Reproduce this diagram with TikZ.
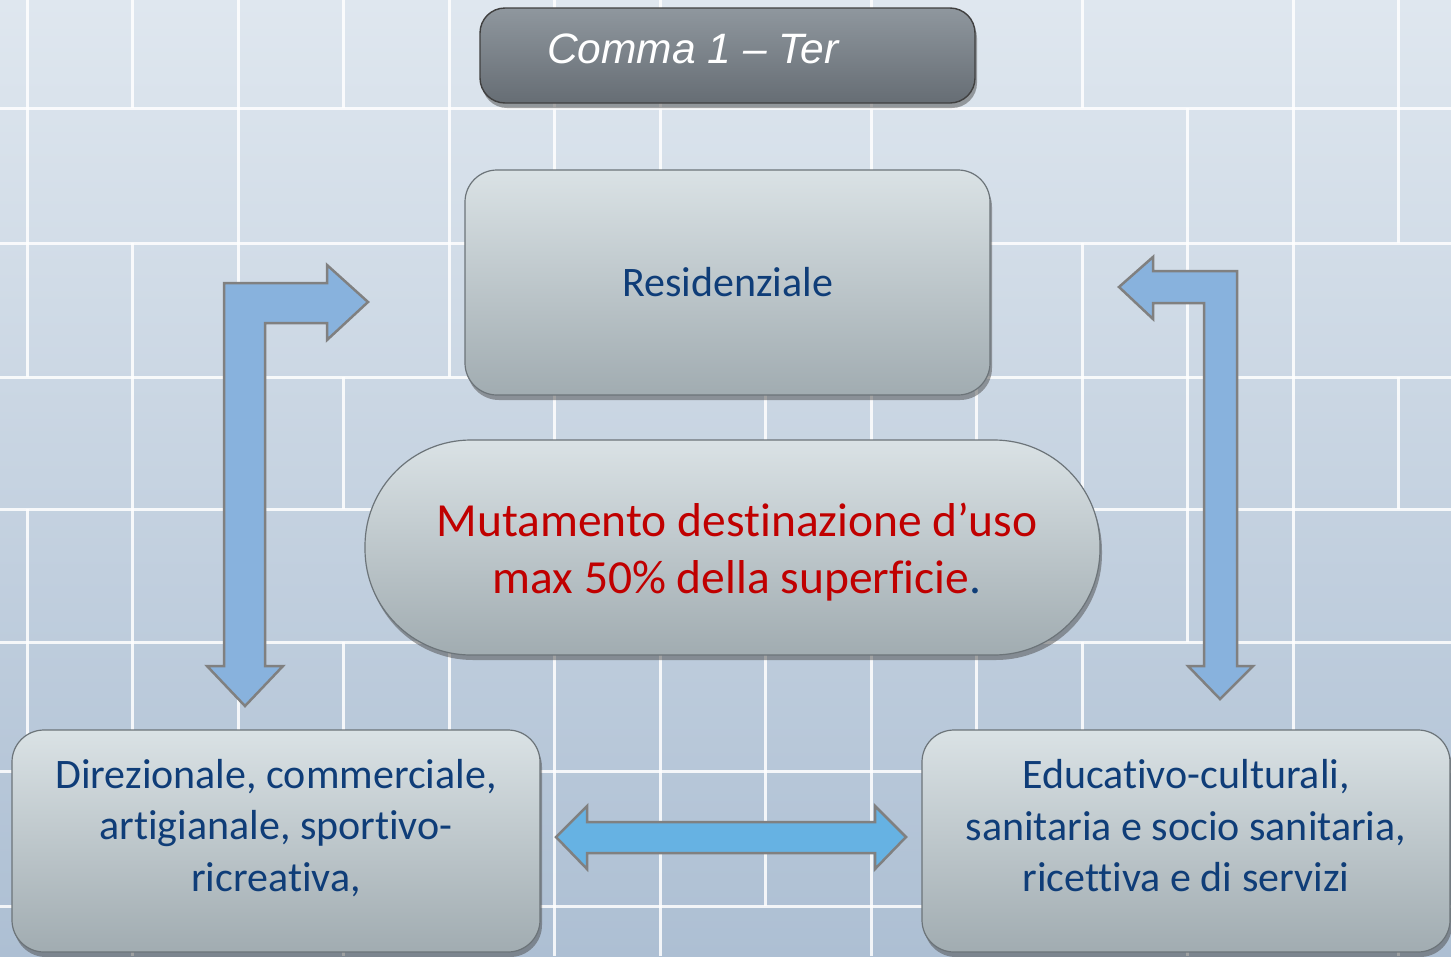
\documentclass[tikz,border=0pt]{standalone}
\usepackage{fontspec}
\setmainfont{Carlito}[Ligatures=CommonOff]
\newfontfamily\arialfont{Liberation Sans}
\usetikzlibrary{shadows}
\definecolor{bgtop}{HTML}{DFE7EF}
\definecolor{bgbot}{HTML}{ADBFD3}
\definecolor{boxtop}{HTML}{DAE2E5}
\definecolor{boxbot}{HTML}{A1ACB1}
\definecolor{boxline}{HTML}{6C7479}
\definecolor{txtblue}{HTML}{0F3D78}
\definecolor{txtred}{HTML}{C00000}
\definecolor{arrfill}{HTML}{88B2DD}
\definecolor{arrfilltwo}{HTML}{66B2E3}
\definecolor{arrline}{HTML}{808080}
\definecolor{commatop}{HTML}{8F979E}
\definecolor{commabot}{HTML}{666D74}
\begin{document}
\begin{tikzpicture}[x=1pt,y=-1pt,
  gridline/.style={white, line width=3pt, opacity=0.85},
  gbox/.style={draw=boxline, line width=1.2pt, top color=boxtop, bottom color=boxbot,
     drop shadow={shadow xshift=2pt, shadow yshift=-5pt, opacity=0.5, fill=black!70}},
  cbox/.style={draw=black!75, line width=1.4pt, top color=commatop, bottom color=commabot,
     drop shadow={shadow xshift=2pt, shadow yshift=-5pt, opacity=0.5, fill=black!70}},
  bluetext/.style={text=txtblue, font=\fontsize{42}{51.5}\selectfont, align=center, inner sep=0pt},
  blockarrow/.style={draw=arrline, line width=2.5pt},
]
\useasboundingbox (0,0) rectangle (1451,956);
\fill[top color=bgtop, bottom color=bgbot] (0,0) rectangle (1451,956);

% tiled background lines
\foreach \y in {108,243,377,509,642,771,906} \draw[gridline] (0,\y) -- (1451,\y);
\foreach \k in {0,1,2,3,4,5,6,8,10,12,13} \draw[gridline] ({27+105.5*\k},0) -- ({27+105.5*\k},108);
\foreach \k in {0,2,4,5,6,8,11,12,13} \draw[gridline] ({27+105.5*\k},108) -- ({27+105.5*\k},243);
\foreach \k in {0,1,2,4,6,8,10,11,12} \draw[gridline] ({27+105.5*\k},243) -- ({27+105.5*\k},377);
\foreach \k in {1,3,5,7,8,9,10,11,12,13} \draw[gridline] ({27+105.5*\k},377) -- ({27+105.5*\k},509);
\foreach \k in {0,1,4,6,8,11,12} \draw[gridline] ({27+105.5*\k},509) -- ({27+105.5*\k},642);
\foreach \k in {0,1,2,3,4,5,6,7,8,9,10,12} \draw[gridline] ({27+105.5*\k},642) -- ({27+105.5*\k},771);
\foreach \k in {0,2,5,6,7,8,10,12} \draw[gridline] ({27+105.5*\k},771) -- ({27+105.5*\k},906);
\foreach \k in {1,3,5,6,8,11,13} \draw[gridline] ({27+105.5*\k},906) -- ({27+105.5*\k},956);

% boxes
\node[cbox, rounded corners=25pt, minimum width=495pt, minimum height=95pt] (comma) at (727.5,55.5) {};
\node[anchor=west, inner sep=0pt, text=white, font=\arialfont\itshape\fontsize{42.5}{50}\selectfont] (commatxt) at (547,49) {Comma 1 – Ter};

\node[gbox, rounded corners=32pt, minimum width=525pt, minimum height=225pt, bluetext] (res) at (727.5,282.5) {Residenziale};

\node[gbox, rounded corners=106pt, minimum width=735pt, minimum height=215pt] (mut) at (732.5,547.5) {};
\node[inner sep=0pt, text=txtred, align=center, font=\fontsize{47.5}{57.5}\selectfont] (muttxt) at (737,552)
      {Mutamento destinazione d’uso\\max 50\% della superficie{\color{txtblue}.}};

\node[gbox, rounded corners=32pt, minimum width=528pt, minimum height=222pt] (dir) at (276,841) {};
\node[bluetext] (dirtxt) at (276,828) {Direzionale, commerciale,\\artigianale, sportivo-\\ricreativa,};

\node[gbox, rounded corners=32pt, minimum width=528pt, minimum height=222pt] (edu) at (1186,841) {};
\node[bluetext] (edutxt) at (1186,826) {Educativo-culturali,\\sanitaria e socio sanitaria,\\ricettiva e di servizi};

% block arrows
\draw[blockarrow, fill=arrfill] (245,706) -- (283,666) -- (265,666) -- (265,323) -- (327,323) -- (327,340)
   -- (368,302) -- (327,265) -- (327,283) -- (224,283) -- (224,666) -- (207,666) -- cycle;
\draw[blockarrow, fill=arrfill] (1220,699) -- (1253,666) -- (1237,666) -- (1237,271) -- (1153,271) -- (1153,257)
   -- (1119,287) -- (1153,319) -- (1153,303) -- (1204,303) -- (1204,666) -- (1188,666) -- cycle;
\draw[blockarrow, fill=arrfilltwo] (556,837) -- (587,806) -- (587,822) -- (875,822) -- (875,806) -- (906,837)
   -- (875,869) -- (875,853) -- (587,853) -- (587,869) -- cycle;
\end{tikzpicture}
\end{document}
